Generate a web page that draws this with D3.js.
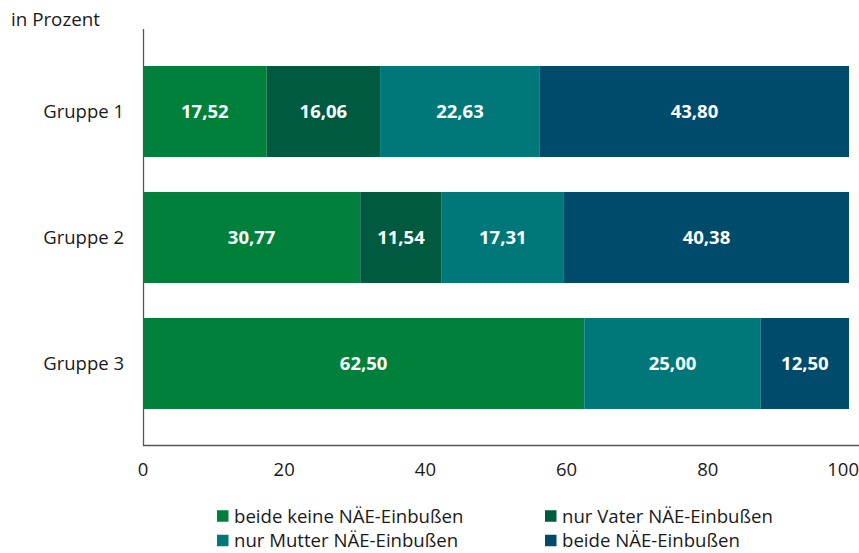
<!DOCTYPE html>
<html><head><meta charset="utf-8">
<script src="https://cdn.jsdelivr.net/npm/d3@7"></script>
<style>body{margin:0;background:#fff}svg{display:block;font-family:"Open Sans","Noto Sans",sans-serif}</style>
</head><body><svg id="c" width="859" height="553"></svg>
<script>
const groups = ["Gruppe 1", "Gruppe 2", "Gruppe 3"];
const seriesNames = ["beide keine NÄE-Einbußen", "nur Vater NÄE-Einbußen", "nur Mutter NÄE-Einbußen", "beide NÄE-Einbußen"];
const beideKeine = [17.52, 30.77, 62.50];
const nurVater = [16.06, 11.54, 0];
const nurMutter = [22.63, 17.31, 25.00];
const beide = [43.80, 40.38, 12.50];
const xTicks = [0, 20, 40, 60, 80, 100];
const colors = ["#00803a", "#005a40", "#00787a", "#004b6b"];

const svg = d3.select("#c");
const x = d3.scaleLinear().domain([0, 100]).range([143, 849]);
const y = d3.scaleBand().domain(groups).range([48.5, 426.5]).paddingInner(0.278).paddingOuter(0.139);

const seriesVals = [beideKeine, nurVater, nurMutter, beide];
const rows = groups.map((g, i) => {
  const r = {group: g};
  seriesNames.forEach((s, j) => r[s] = seriesVals[j][i]);
  return r;
});
const stacked = d3.stack().keys(seriesNames)(rows);
const fmt = v => v.toFixed(2).replace(".", ",");

stacked.forEach((layer, j) => {
  const g = svg.append("g");
  layer.forEach(d => {
    const w = x(d[1]) - x(d[0]);
    if (w <= 0) return;
    g.append("rect").attr("x", x(d[0])).attr("y", y(d.data.group))
      .attr("width", w).attr("height", y.bandwidth()).attr("fill", colors[j]);
    g.append("text").attr("x", (x(d[0]) + x(d[1])) / 2).attr("y", y(d.data.group) + y.bandwidth() / 2)
      .attr("dy", "0.36em").attr("text-anchor", "middle").attr("fill", "#fff")
      .attr("font-weight", "bold").attr("font-size", 18.5).text(fmt(d[1] - d[0]));
  });
});

// axes lines
svg.append("line").attr("x1", 143.5).attr("x2", 143.5).attr("y1", 29).attr("y2", 446).attr("stroke", "#555").attr("stroke-width", 1.3);
svg.append("line").attr("x1", 143).attr("x2", 859).attr("y1", 445.5).attr("y2", 445.5).attr("stroke", "#555").attr("stroke-width", 1.3);

// x tick labels
svg.append("g").selectAll("text").data(xTicks).join("text")
  .attr("x", d => d === 100 ? 859 : x(d)).attr("y", 476)
  .attr("text-anchor", d => d === 100 ? "end" : "middle")
  .attr("font-size", 18.5).attr("fill", "#1a1a1a").text(d => d);

// y labels
svg.append("g").selectAll("text").data(groups).join("text")
  .attr("x", 124).attr("y", d => y(d) + y.bandwidth() / 2).attr("dy", "0.36em")
  .attr("text-anchor", "end").attr("font-size", 18.5).attr("fill", "#1a1a1a").text(d => d);

svg.append("text").attr("x", 11).attr("y", 26).attr("font-size", 18.8).attr("fill", "#1a1a1a").text("in Prozent");

// legend
const legPos = [[217, 516], [545, 516], [217, 540.5], [545, 540.5]];
seriesNames.forEach((s, j) => {
  const [lx, ly] = legPos[j];
  svg.append("rect").attr("x", lx).attr("y", ly - 5.75).attr("width", 11.5).attr("height", 11.5).attr("fill", colors[j]);
  svg.append("text").attr("x", lx + 17).attr("y", ly).attr("dy", "0.35em").attr("font-size", 18.6).attr("fill", "#1a1a1a").text(s);
});
</script></body></html>
